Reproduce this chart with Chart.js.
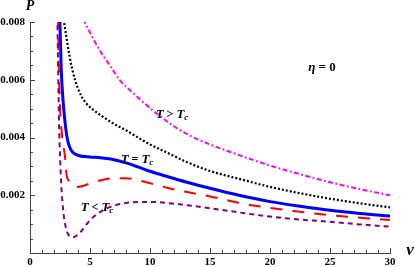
<!DOCTYPE html>
<html>
<head>
<meta charset="utf-8">
<script src="https://cdn.jsdelivr.net/npm/chart.js@4.4.1/dist/chart.umd.min.js"></script>
<style>
html,body{margin:0;padding:0;background:#fff;}
canvas{display:block;}
</style>
</head>
<body>
<canvas id="c" width="415" height="267"></canvas>
<script>
// ---- data ----
// T > Tc (magenta, dash-dot)
const vHot = [4.45, 4.8, 5.3, 6.0, 6.7, 7.5, 8.5, 9.5, 10.5, 12, 13.5, 15, 17.5, 20, 22.5, 25, 27.5, 30];
const pHot = [0.0081, 0.0078, 0.0074, 0.0069, 0.00647, 0.00598, 0.00558, 0.0052, 0.00485, 0.00439, 0.00403, 0.00376, 0.00338, 0.00303, 0.00273, 0.00245, 0.00221, 0.0020];
// black dotted (between T > Tc and Tc)
const vWarm = [2.8, 2.95, 3.1, 3.3, 3.5, 3.75, 4.0, 4.3, 4.7, 5.2, 6.0, 7.0, 8.0, 9.0, 10.0, 11.5, 13, 15, 17.5, 20, 22.5, 25, 27.5, 30];
const pWarm = [0.0081, 0.0077, 0.0073, 0.0068, 0.0064, 0.0060, 0.0057, 0.00542, 0.00518, 0.00498, 0.00474, 0.00447, 0.00425, 0.00400, 0.00376, 0.00346, 0.00316, 0.00284, 0.00256, 0.00229, 0.00207, 0.00188, 0.00172, 0.00158];
// T = Tc (blue, solid)
const vCrit = [2.48, 2.6, 2.75, 2.9, 3.05, 3.2, 3.4, 3.7, 4.1, 4.6, 5.2, 6.0, 7.0, 8.0, 9.0, 10.0, 11.5, 13, 15, 17.5, 20, 22.5, 25, 27.5, 30];
const pCrit = [0.0082, 0.0064, 0.0053, 0.0046, 0.0041, 0.0038, 0.00358, 0.00344, 0.00337, 0.00334, 0.00332, 0.00329, 0.00323, 0.00312, 0.00298, 0.00283, 0.00264, 0.00246, 0.00224, 0.00199, 0.00178, 0.00162, 0.00148, 0.00137, 0.00128];
// red long dash (slightly below Tc)
const vCool = [2.33, 2.4, 2.5, 2.62, 2.75, 2.9, 3.05, 3.25, 3.5, 3.9, 4.4, 5.0, 6.0, 7.0, 8.0, 9.0, 10.0, 11.5, 13, 15, 17.5, 20, 22.5, 25, 27.5, 30];
const pCool = [0.0082, 0.0065, 0.0051, 0.0043, 0.0038, 0.0034, 0.0027, 0.0025, 0.00236, 0.00229, 0.00232, 0.00241, 0.00253, 0.00259, 0.00259, 0.00252, 0.00242, 0.00225, 0.00212, 0.00196, 0.00173, 0.00156, 0.00143, 0.00131, 0.00122, 0.00114];
// T < Tc (purple, short dash)
const vCold = [2.28, 2.36, 2.42, 2.52, 2.6, 2.7, 2.8, 2.95, 3.1, 3.3, 3.5, 3.8, 4.2, 4.8, 5.5, 6.2, 7.0, 8.0, 9.0, 10.0, 11.5, 13.0, 15, 17.5, 20, 22.5, 25, 27.5, 30];
const pCold = [0.0082, 0.0060, 0.0045, 0.0032, 0.0024, 0.0018, 0.00135, 0.00095, 0.00072, 0.00058, 0.00054, 0.00058, 0.00072, 0.00104, 0.00132, 0.00151, 0.00164, 0.00173, 0.00177, 0.00177, 0.00173, 0.00166, 0.00155, 0.00140, 0.00126, 0.00116, 0.00108, 0.00099, 0.00091];

// tick labels
const xTickLabels = ['0', '5', '10', '15', '20', '25', '30'];
const yTickLabels = ['0.002', '0.004', '0.006', '0.008'];

const pts = (vs, ps) => vs.map((v, i) => ({x: v, y: ps[i]}));
const tickFont = {family: '"Liberation Serif", "DejaVu Serif", serif', size: 11, weight: 'bold'};
const SERIF = '"Liberation Serif", "DejaVu Serif", serif';

function drawRich(ctx, parts, cx, cy) {
  let w = 0;
  parts.forEach(p => { ctx.font = p.f; p.w = ctx.measureText(p.t).width; w += p.w; });
  let x = cx - w / 2;
  ctx.textBaseline = 'middle';
  ctx.textAlign = 'left';
  parts.forEach(p => { ctx.font = p.f; ctx.fillText(p.t, x, cy + (p.dy || 0)); x += p.w; });
}

const decor = {
  id: 'decor',
  afterDraw(chart) {
    const ctx = chart.ctx, a = chart.chartArea;
    const xs = chart.scales.x, ys = chart.scales.y;
    ctx.save();
    ctx.strokeStyle = '#444';
    ctx.lineWidth = 1;
    xs.ticks.forEach(t => {
      const px = Math.round(xs.getPixelForValue(t.value)) + 0.5;
      const major = Math.abs(t.value % 5) < 1e-9;
      ctx.beginPath();
      ctx.moveTo(px, a.bottom);
      ctx.lineTo(px, a.bottom - (major ? 5 : 3));
      ctx.stroke();
    });
    ys.ticks.forEach(t => {
      const py = Math.round(ys.getPixelForValue(t.value)) + 0.5;
      const r = t.value / 0.002;
      const major = Math.abs(r - Math.round(r)) < 1e-6;
      ctx.beginPath();
      ctx.moveTo(a.left, py);
      ctx.lineTo(a.left + (major ? 5 : 3), py);
      ctx.stroke();
    });
    ctx.fillStyle = '#000';
    const bi = s => 'italic bold ' + s + 'px ' + SERIF;
    const b = s => 'bold ' + s + 'px ' + SERIF;
    // axis names
    drawRich(ctx, [{t: 'P', f: bi(14)}], 30, 6);
    drawRich(ctx, [{t: 'v', f: bi(17)}], 410, 251);
    // annotations
    drawRich(ctx, [{t: 'η', f: bi(13)}, {t: ' = 0', f: b(13)}], 322, 68);
    drawRich(ctx, [{t: 'T', f: bi(13)}, {t: ' > ', f: b(12)}, {t: 'T', f: bi(13)}, {t: 'c', f: bi(9), dy: 3}], 172, 115);
    drawRich(ctx, [{t: 'T', f: bi(13)}, {t: ' = ', f: b(12)}, {t: 'T', f: bi(13)}, {t: 'c', f: bi(9), dy: 3}], 137, 160);
    drawRich(ctx, [{t: 'T', f: bi(13)}, {t: ' < ', f: b(12)}, {t: 'T', f: bi(13)}, {t: 'c', f: bi(9), dy: 3}], 97, 208);
    ctx.restore();
  }
};

const common = {pointRadius: 0, borderWidth: 2, fill: false, cubicInterpolationMode: 'monotone', borderCapStyle: 'butt'};

new Chart(document.getElementById('c'), {
  type: 'line',
  data: {
    datasets: [
      Object.assign({}, common, {label: 'T < Tc', data: pts(vCold, pCold), borderColor: '#800080', borderDash: [5, 4]}),
      Object.assign({}, common, {label: 'cool', data: pts(vCool, pCool), borderColor: '#ff0000', borderDash: [12, 10]}),
      Object.assign({}, common, {label: 'T = Tc', data: pts(vCrit, pCrit), borderColor: '#0000ff', borderWidth: 3}),
      Object.assign({}, common, {label: 'warm', data: pts(vWarm, pWarm), borderColor: '#000000', borderWidth: 2.2, borderDash: [2, 2]}),
      Object.assign({}, common, {label: 'T > Tc', data: pts(vHot, pHot), borderColor: '#ff00ff', borderDash: [5, 2.5, 1.8, 2.5]})
    ]
  },
  options: {
    responsive: false,
    devicePixelRatio: 1,
    animation: false,
    layout: {padding: {top: 22, right: 25, bottom: 0, left: 0}},
    plugins: {legend: {display: false}, tooltip: {enabled: false}},
    scales: {
      x: {
        type: 'linear', min: 0, max: 30,
        afterFit: s => { s.height = 14; },
        grid: {display: true, drawOnChartArea: false, drawTicks: false},
        border: {display: true, color: '#444', width: 1},
        ticks: {
          stepSize: 1, maxTicksLimit: 1000, autoSkip: false, maxRotation: 0, padding: 3,
          color: '#000', font: tickFont,
          callback: v => (Math.abs(v % 5) < 1e-9 ? xTickLabels[Math.round(v / 5)] : '')
        }
      },
      y: {
        type: 'linear', min: 0, max: 0.008,
        afterFit: s => { s.width = 30; },
        grid: {display: true, drawOnChartArea: false, drawTicks: false},
        border: {display: true, color: '#444', width: 1},
        ticks: {
          stepSize: 0.0005, maxTicksLimit: 1000, autoSkip: false, padding: 5,
          color: '#000', font: tickFont,
          callback: v => {
            const r = v / 0.002;
            const k = Math.round(r);
            return (Math.abs(r - k) < 1e-6 && k > 0) ? yTickLabels[k - 1] : '';
          }
        }
      }
    }
  },
  plugins: [decor]
});
</script>
</body>
</html>
